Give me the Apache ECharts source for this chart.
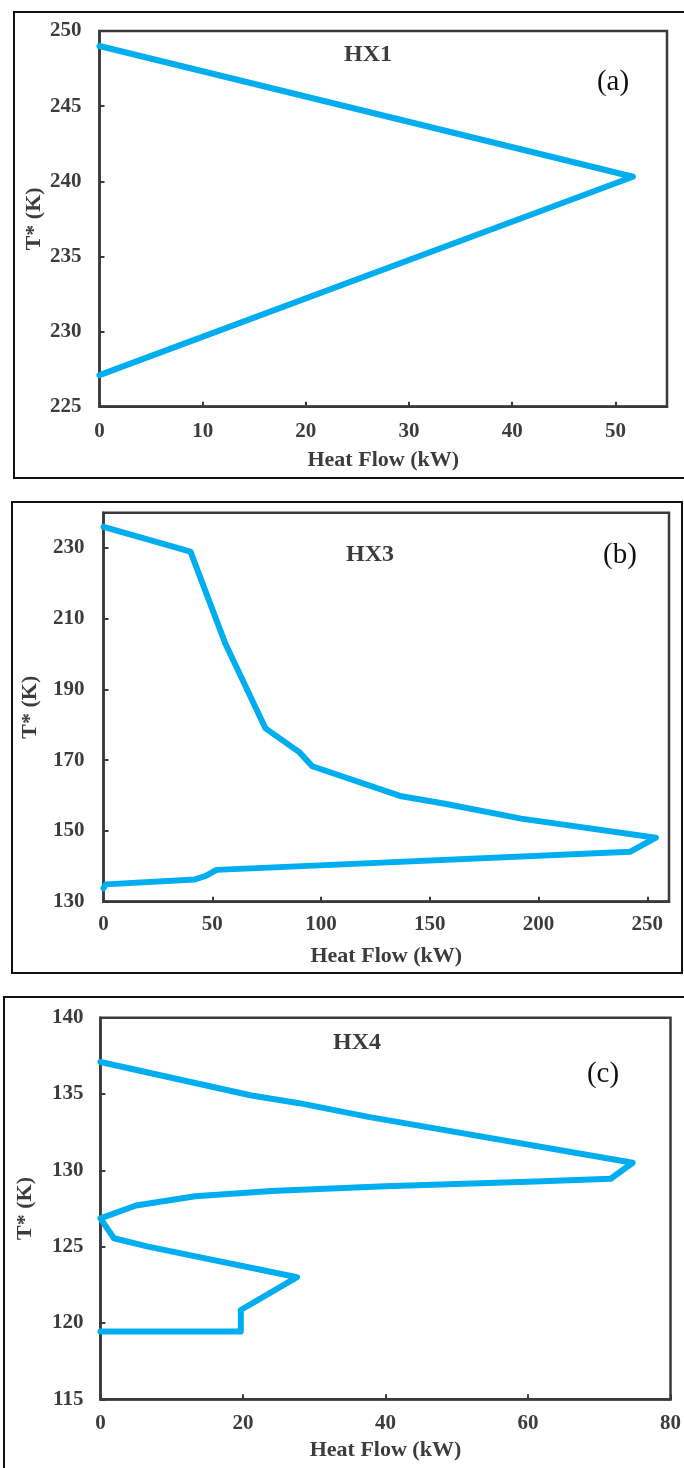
<!DOCTYPE html>
<html>
<head>
<meta charset="utf-8">
<style>
  html, body { margin: 0; padding: 0; background: #fff; }
  #chart { width: 684px; height: 1468px; }
</style>
<script src="https://cdn.jsdelivr.net/npm/echarts@6/dist/echarts.min.js"></script>
</head>
<body>
<div id="chart"></div>
<script>
// HX1 composite curve: heat flow (kW) vs shifted temperature (K)
const hx1Flow = [0, 51.7, 0];
const hx1Temp = [249.0, 240.3, 227.1];

// HX3 composite curve
const hx3Flow = [0, 40, 56, 74.5, 90, 96, 137, 157, 192, 254, 242, 52, 47, 42, 1, 0];
const hx3Temp = [236.0, 229.0, 203.0, 179.0, 172.3, 168.3, 159.8, 157.7, 153.5, 148.1, 144.1, 139.0, 137.3, 136.3, 134.9, 133.8];

// HX4 composite curve
const hx4Flow = [0, 21.2, 27.9, 37.6, 74.7, 71.6, 60, 40, 24, 13.3, 5, 0, 1.9, 6.7, 27.6, 19.7, 19.7, 0];
const hx4Temp = [137.1, 134.9, 134.4, 133.5, 130.5, 129.45, 129.25, 128.95, 128.65, 128.3, 127.7, 126.85, 125.55, 125.0, 123.0, 120.85, 119.45, 119.45];

// Axis tick settings per panel
const hx1XTicks = { min: 0, max: 55, interval: 10 };
const hx1YTicks = { min: 225, max: 250, interval: 5 };
const hx3XTicks = { min: 0, max: 260, interval: 50 };
const hx3YTicks = { min: 130, max: 240, interval: 20 };
const hx4XTicks = { min: 0, max: 80, interval: 20 };
const hx4YTicks = { min: 115, max: 140, interval: 5 };

const panelTitles = ['HX1', 'HX3', 'HX4'];
const panelTags = ['(a)', '(b)', '(c)'];
const xName = 'Heat Flow (kW)';
const yName = 'T* (K)';

const zip = (xs, ys) => xs.map((x, i) => [x, ys[i]]);

const FONT = "'Liberation Serif', 'Times New Roman', serif";
const TEXT = '#3c3c3c';
const AXIS = '#3a3a3a';
const LINE = '#00AEEF';

const grids = [
  { left: 99.5, top: 31, width: 567.5, height: 375.7 },
  { left: 103.5, top: 512.7, width: 565.5, height: 389 },
  { left: 100.4, top: 1017.7, width: 575.6, height: 381.6 }
];

const xTicks = [hx1XTicks, hx3XTicks, hx4XTicks];
const yTicks = [hx1YTicks, hx3YTicks, hx4YTicks];
const xHideMax = [true, true, false];
const yHideMax = [false, true, false];
const xLabelMargin = [14, 12, 14];
const yLabelMargin = [18, 19, 17];
const xNameGap = [43, 44, 40];
const yNameGap = [54, 62, 64];

const chart = echarts.init(document.getElementById('chart'), null, { renderer: 'canvas' });

const option = {
  animation: false,
  backgroundColor: '#fff',
  grid: grids.map(g => Object.assign({
    show: true, borderColor: AXIS, borderWidth: 2.5, backgroundColor: 'transparent'
  }, g)),
  xAxis: xTicks.map((t, i) => ({
    type: 'value', gridIndex: i,
    min: t.min, max: t.max, interval: t.interval,
    name: xName, nameLocation: 'middle', nameGap: xNameGap[i], nameMoveOverlap: false,
    nameTextStyle: { fontFamily: FONT, fontWeight: 'bold', fontSize: 22, color: TEXT },
    axisLine: { show: true, lineStyle: { color: AXIS, width: 2.5 } },
    axisTick: { show: true, inside: true, length: 5, lineStyle: { color: AXIS, width: 2 } },
    axisLabel: {
      fontFamily: FONT, fontWeight: 'bold', fontSize: 21, color: TEXT,
      margin: xLabelMargin[i], showMaxLabel: !xHideMax[i]
    },
    splitLine: { show: false }
  })),
  yAxis: yTicks.map((t, i) => ({
    type: 'value', gridIndex: i,
    min: t.min, max: t.max, interval: t.interval,
    name: yName, nameLocation: 'middle', nameGap: yNameGap[i], nameRotate: 90, nameMoveOverlap: false,
    nameTextStyle: { fontFamily: FONT, fontWeight: 'bold', fontSize: 22, color: TEXT },
    axisLine: { show: true, lineStyle: { color: AXIS, width: 2.5 } },
    axisTick: { show: true, inside: true, length: 5, lineStyle: { color: AXIS, width: 2 } },
    axisLabel: {
      fontFamily: FONT, fontWeight: 'bold', fontSize: 21, color: TEXT,
      margin: yLabelMargin[i], showMaxLabel: !yHideMax[i]
    },
    splitLine: { show: false }
  })),
  series: [
    zip(hx1Flow, hx1Temp),
    zip(hx3Flow, hx3Temp),
    zip(hx4Flow, hx4Temp)
  ].map((data, i) => ({
    type: 'line', xAxisIndex: i, yAxisIndex: i,
    data: data, showSymbol: false, symbol: 'none', clip: false, z: 5,
    lineStyle: { color: LINE, width: 6, join: 'round', cap: 'round' }
  })),
  graphic: [
    // outer panel frames
    { type: 'rect', shape: { x: 14, y: 12, width: 700, height: 466 },
      style: { fill: 'none', stroke: '#111', lineWidth: 2 }, silent: true },
    { type: 'rect', shape: { x: 12, y: 502, width: 670, height: 471 },
      style: { fill: 'none', stroke: '#111', lineWidth: 2 }, silent: true },
    { type: 'rect', shape: { x: 4, y: 997, width: 720, height: 500 },
      style: { fill: 'none', stroke: '#111', lineWidth: 2 }, silent: true },
    // panel titles
    { type: 'text', x: 368, y: 55, style: { text: panelTitles[0], font: 'bold 24px ' + FONT, fill: TEXT, align: 'center', verticalAlign: 'middle' } },
    { type: 'text', x: 370, y: 555, style: { text: panelTitles[1], font: 'bold 24px ' + FONT, fill: TEXT, align: 'center', verticalAlign: 'middle' } },
    { type: 'text', x: 357, y: 1043, style: { text: panelTitles[2], font: 'bold 24px ' + FONT, fill: TEXT, align: 'center', verticalAlign: 'middle' } },
    // panel tags
    { type: 'text', x: 613, y: 82, style: { text: panelTags[0], font: '29px ' + FONT, fill: '#111', align: 'center', verticalAlign: 'middle' } },
    { type: 'text', x: 620, y: 555, style: { text: panelTags[1], font: '29px ' + FONT, fill: '#111', align: 'center', verticalAlign: 'middle' } },
    { type: 'text', x: 603, y: 1074, style: { text: panelTags[2], font: '29px ' + FONT, fill: '#111', align: 'center', verticalAlign: 'middle' } }
  ]
};

chart.setOption(option);
</script>
</body>
</html>
